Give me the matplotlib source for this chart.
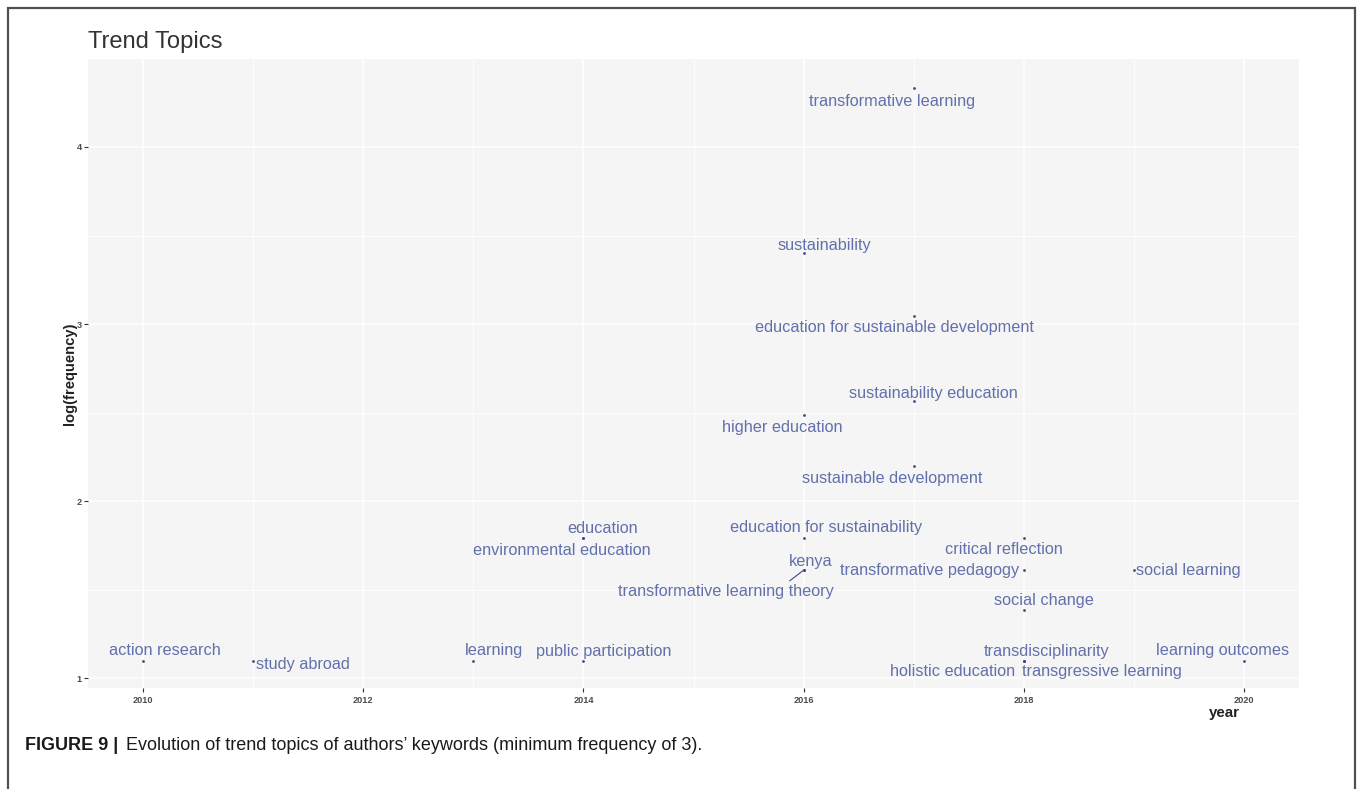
import numpy as np
import matplotlib
matplotlib.use("Agg")
import matplotlib.pyplot as plt
from matplotlib.patches import Rectangle
from matplotlib.ticker import MultipleLocator

plt.rcParams['font.family'] = ['Liberation Sans', 'DejaVu Sans']

# Trend topics: keyword, median year, frequency
topics = [
    "transformative learning", "sustainability",
    "education for sustainable development", "sustainability education",
    "higher education", "sustainable development",
    "education for sustainability", "education", "environmental education",
    "critical reflection", "kenya", "transformative learning theory",
    "transformative pedagogy", "social learning", "social change",
    "action research", "study abroad", "learning", "public participation",
    "transdisciplinarity", "holistic education", "transgressive learning",
    "learning outcomes",
]
years = [2017, 2016, 2017, 2017, 2016, 2017, 2016, 2014, 2014, 2018, 2016, 2016,
         2018, 2019, 2018, 2010, 2011, 2013, 2014, 2018, 2018, 2018, 2020]
freqs = [76, 30, 21, 13, 12, 9, 6, 6, 6, 6, 5, 5, 5, 5, 4, 3, 3, 3, 3, 3, 3, 3, 3]

# label displacement from each point (pixels: right, down)
label_offsets = [(-22, 13), (21, -7), (-19, 11), (20, -8), (-21, 12), (-21, 12),
                 (22, -10), (19, -9), (-22, 13), (-20, 12), (7, -9), (-78, 21),
                 (-94, 0), (54, 0), (20, -9), (22, -10), (50, 4), (21, -10),
                 (20, -9), (23, -9), (-71, 11), (78, 11), (-21, -10)]

W, H = 1357, 789
fig = plt.figure(figsize=(W / 100, H / 100), dpi=100)
fig.patch.set_facecolor('white')

# outer frame around the figure
fig.patches.append(Rectangle((8 / W, -0.02), (1355 - 8) / W, 1.02 - 8 / H,
                             transform=fig.transFigure, fill=False,
                             edgecolor='#505050', lw=1.6))

ax = fig.add_axes([88 / W, (H - 688) / H, (1299 - 88) / W, (688 - 59) / H])
ax.set_facecolor('#F5F5F5')
for s in ax.spines.values():
    s.set_visible(False)

ax.set_xlim(2009.5, 2020.5)
ax.set_ylim(0.944, 4.497)
ax.xaxis.set_major_locator(MultipleLocator(2))
ax.xaxis.set_minor_locator(MultipleLocator(1))
ax.yaxis.set_major_locator(MultipleLocator(1))
ax.yaxis.set_minor_locator(MultipleLocator(0.5))
ax.grid(which='major', color='white', lw=1.1)
ax.grid(which='minor', color='white', lw=0.6)
ax.set_axisbelow(True)
ax.tick_params(which='minor', length=0)
ax.tick_params(which='major', length=3, width=0.8, color='#333333',
               labelsize=6.6, labelcolor='#4D4D4D')
ax.tick_params(axis='x', pad=3)
ax.tick_params(axis='y', pad=1.5)
for lab in ax.get_xticklabels() + ax.get_yticklabels():
    lab.set_fontweight('bold')

logf = np.log(freqs)
label_color = '#6270AC'
ax.scatter(years, logf, s=4, color='#3E4A85', zorder=3, linewidths=0)

for name, x, y, (dx, dy) in zip(topics, years, logf, label_offsets):
    if name == "transformative learning theory":
        ax.annotate(name, xy=(x, y), xytext=(dx, -dy), textcoords='offset pixels',
                    ha='center', va='center', fontsize=11.7, color=label_color,
                    zorder=4,
                    arrowprops=dict(arrowstyle='-', color='#3E4A85', lw=0.8,
                                    relpos=(0.78, 1.0), shrinkA=0, shrinkB=0))
    else:
        ax.annotate(name, xy=(x, y), xytext=(dx, -dy), textcoords='offset pixels',
                    ha='center', va='center', fontsize=11.7, color=label_color,
                    zorder=4)

fig.text(70 / W, 1 - 374 / H, 'log(frequency)', fontsize=10.6, fontweight='bold',
         color='#222222', ha='center', va='center', rotation=90)
fig.text(1224 / W, 1 - 713 / H, 'year', fontsize=10.8, fontweight='bold',
         color='#222222', ha='center', va='center')

fig.text(88 / W, 1 - 42 / H, 'Trend Topics', fontsize=17.1, color='#333333',
         ha='left', va='center')

fig.text(25 / W, 1 - 746 / H, 'FIGURE 9 |', fontsize=13, fontweight='bold',
         color='#1a1a1a', ha='left', va='center')
fig.text(126 / W, 1 - 746 / H,
         'Evolution of trend topics of authors\u2019 keywords (minimum frequency of 3).',
         fontsize=13, color='#1a1a1a', ha='left', va='center')

fig.savefig('out.png', dpi=100)
